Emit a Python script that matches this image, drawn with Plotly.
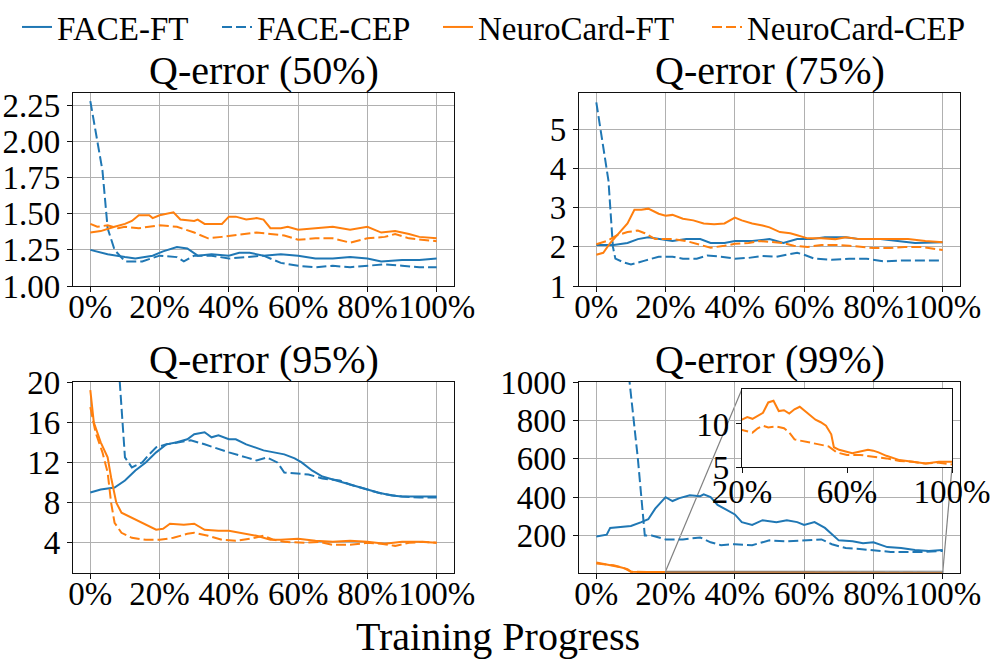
import plotly.graph_objects as go

# ---------------- data ----------------
SERIES = ["FACE-FT", "FACE-CEP", "NeuroCard-FT", "NeuroCard-CEP"]

# Q-error (50%)
q50_face_ft_x = [0, 5, 10, 13, 18, 21, 25, 28, 31, 35, 40, 43, 46, 50, 55, 60, 65, 70, 75, 80, 84, 90, 95, 100]
q50_face_ft_y = [1.25, 1.22, 1.20, 1.19, 1.21, 1.24, 1.27, 1.26, 1.21, 1.22, 1.21, 1.23, 1.23, 1.21, 1.22, 1.21, 1.19, 1.19, 1.20, 1.19, 1.17, 1.18, 1.18, 1.19]
q50_face_cep_x = [0, 3.5, 5, 7, 10, 15, 20, 25, 27, 30, 35, 40, 45, 50, 55, 60, 65, 70, 75, 80, 85, 90, 95, 100]
q50_face_cep_y = [2.28, 1.80, 1.40, 1.25, 1.17, 1.17, 1.21, 1.20, 1.17, 1.21, 1.21, 1.19, 1.20, 1.21, 1.16, 1.14, 1.13, 1.14, 1.13, 1.14, 1.15, 1.14, 1.13, 1.13]
q50_nc_ft_x = [0, 3, 7, 10, 12, 14, 17, 18, 20, 24, 26, 30, 31, 33, 38, 40, 42, 45, 48, 50, 52, 55, 57, 60, 65, 70, 75, 78, 80, 84, 88, 92, 95, 100]
q50_nc_ft_y = [1.37, 1.38, 1.41, 1.43, 1.45, 1.49, 1.49, 1.47, 1.49, 1.51, 1.46, 1.45, 1.46, 1.43, 1.43, 1.48, 1.48, 1.46, 1.47, 1.46, 1.40, 1.40, 1.41, 1.39, 1.40, 1.41, 1.39, 1.40, 1.41, 1.37, 1.38, 1.36, 1.34, 1.33]
q50_nc_cep_x = [0, 2, 5, 8, 10, 14, 20, 25, 30, 34, 38, 42, 46, 48, 52, 56, 60, 65, 70, 75, 80, 85, 88, 92, 100]
q50_nc_cep_y = [1.43, 1.41, 1.42, 1.40, 1.41, 1.40, 1.42, 1.41, 1.37, 1.33, 1.34, 1.35, 1.36, 1.37, 1.36, 1.35, 1.32, 1.33, 1.33, 1.30, 1.33, 1.34, 1.36, 1.33, 1.31]

# Q-error (75%)
q75_face_ft_x = [0, 5, 9, 12, 15, 18, 22, 26, 30, 33, 37, 40, 45, 50, 54, 58, 62, 66, 72, 76, 82, 87, 92, 100]
q75_face_ft_y = [2.05, 2.05, 2.10, 2.20, 2.25, 2.20, 2.15, 2.20, 2.20, 2.10, 2.10, 2.15, 2.15, 2.20, 2.10, 2.20, 2.20, 2.25, 2.25, 2.20, 2.20, 2.15, 2.10, 2.12]
q75_face_cep_x = [0, 3.5, 4.8, 5.5, 8, 10, 14, 18, 22, 25, 29, 32, 36, 40, 44, 48, 52, 58, 60, 63, 68, 73, 78, 83, 88, 95, 100]
q75_face_cep_y = [5.70, 3.70, 2.00, 1.70, 1.60, 1.55, 1.65, 1.75, 1.75, 1.70, 1.70, 1.78, 1.75, 1.70, 1.72, 1.77, 1.75, 1.85, 1.80, 1.70, 1.67, 1.70, 1.70, 1.63, 1.65, 1.65, 1.65]
q75_nc_ft_x = [0, 2, 4, 7, 9, 11, 13, 15, 18, 20, 22, 25, 28, 31, 34, 37, 40, 42, 45, 48, 50, 53, 56, 58, 61, 65, 69, 72, 76, 80, 85, 90, 95, 100]
q75_nc_ft_y = [1.80, 1.85, 2.10, 2.40, 2.60, 2.95, 2.95, 2.98, 2.85, 2.80, 2.82, 2.72, 2.68, 2.60, 2.58, 2.60, 2.75, 2.68, 2.60, 2.55, 2.50, 2.38, 2.35, 2.30, 2.22, 2.22, 2.20, 2.25, 2.20, 2.20, 2.20, 2.20, 2.15, 2.12]
q75_nc_cep_x = [0, 3, 6, 9, 12, 14, 17, 22, 26, 30, 33, 37, 40, 44, 47, 50, 54, 57, 61, 65, 70, 73, 77, 80, 85, 89, 94, 100]
q75_nc_cep_y = [2.07, 2.15, 2.30, 2.38, 2.42, 2.35, 2.20, 2.20, 2.15, 2.05, 1.98, 2.03, 2.08, 2.10, 2.15, 2.13, 2.10, 2.03, 2.00, 2.05, 2.05, 2.03, 2.00, 1.97, 1.97, 2.00, 2.00, 1.92]

# Q-error (95%)
q95_face_ft_x = [0, 3, 7, 10, 13, 16, 19, 22, 25, 28, 30, 33, 35, 37, 40, 42, 45, 48, 50, 53, 56, 59, 61, 64, 67, 70, 73, 77, 80, 83, 87, 90, 95, 100]
q95_face_ft_y = [9.0, 9.3, 9.5, 10.2, 11.2, 12.0, 13.0, 13.8, 14.0, 14.3, 14.8, 15.0, 14.5, 14.7, 14.3, 14.3, 13.8, 13.4, 13.2, 13.0, 12.8, 12.4, 12.0, 11.2, 10.6, 10.3, 10.0, 9.6, 9.3, 9.0, 8.7, 8.6, 8.6, 8.6]
q95_face_cep_x = [0, 4, 7, 8.5, 10, 12, 15, 17, 19, 22, 26, 29, 33, 37, 40, 45, 48, 51, 54, 56, 59, 63, 67, 72, 75, 80, 84, 90, 95, 100]
q95_face_cep_y = [45.0, 32.0, 23.0, 20.0, 12.5, 11.5, 12.0, 12.8, 13.5, 13.8, 14.0, 14.2, 13.8, 13.3, 13.0, 12.5, 12.2, 12.5, 12.0, 11.0, 10.9, 10.8, 10.4, 10.2, 9.8, 9.3, 8.9, 8.6, 8.5, 8.5]
q95_nc_ft_x = [0, 1, 3, 5, 6, 7.5, 9, 12, 15, 19, 21, 23, 27, 30, 33, 37, 40, 45, 48, 52, 55, 60, 65, 70, 75, 80, 85, 90, 95, 100]
q95_nc_ft_y = [19.2, 16.0, 14.0, 12.5, 10.5, 8.0, 7.0, 6.5, 6.0, 5.3, 5.4, 5.9, 5.8, 5.9, 5.3, 5.2, 5.2, 4.9, 4.7, 4.3, 4.3, 4.4, 4.2, 4.1, 4.2, 4.1, 3.9, 4.1, 4.1, 4.0]
q95_nc_cep_x = [0, 1.5, 3.5, 5, 6, 7, 9, 12, 16, 20, 24, 28, 30, 34, 38, 42, 46, 50, 53, 56, 62, 66, 70, 75, 80, 84, 88, 92, 96, 100]
q95_nc_cep_y = [17.5, 15.0, 13.0, 11.0, 8.0, 6.0, 5.0, 4.5, 4.3, 4.3, 4.5, 4.9, 5.0, 4.7, 4.3, 4.2, 4.4, 4.7, 4.3, 4.1, 4.0, 4.1, 3.8, 3.8, 4.0, 3.9, 3.7, 4.0, 4.1, 4.0]

# Q-error (99%)
q99_face_ft_x = [0, 3, 4, 7, 10, 13, 15, 17, 19, 20, 22, 24, 27, 30, 31, 33, 35, 40, 42, 45, 48, 52, 55, 58, 60, 63, 66, 68, 70, 74, 77, 80, 84, 88, 92, 96, 100]
q99_face_ft_y = [195, 205, 240, 245, 250, 270, 285, 340, 380, 400, 380, 395, 410, 405, 415, 400, 360, 310, 270, 255, 280, 270, 280, 270, 255, 270, 240, 210, 175, 170, 160, 165, 140, 135, 125, 120, 125]
q99_face_cep_x = [0, 5, 9, 12, 14, 16, 20, 25, 30, 33, 36, 40, 45, 50, 55, 60, 65, 68, 72, 76, 80, 85, 90, 95, 100]
q99_face_cep_y = [3000, 2000, 1100, 600, 200, 200, 180, 180, 190, 165, 150, 155, 150, 175, 170, 175, 180, 155, 135, 130, 125, 115, 115, 115, 120]
q99_nc_ft_x = [0, 3, 5, 7, 9, 10, 15, 20, 22, 24, 26, 28, 30, 32, 34, 36, 38, 40, 42, 44, 46, 48, 50, 52, 54, 55, 57, 60, 62, 65, 68, 70, 72, 75, 80, 85, 90, 95, 100]
q99_nc_ft_y = [60, 50, 45, 35, 25, 12, 10, 10.5, 10.8, 10.6, 11.0, 11.3, 12.5, 12.7, 11.5, 11.6, 11.2, 11.7, 12.0, 11.5, 11.0, 10.5, 10.2, 9.8, 8.8, 7.3, 7.0, 6.8, 6.6, 6.8, 7.0, 6.9, 6.7, 6.3, 5.8, 5.6, 5.4, 5.6, 5.6]
q99_nc_cep_x = [0, 5, 8, 10, 15, 20, 24, 26, 28, 30, 33, 36, 38, 40, 43, 46, 50, 53, 56, 60, 65, 70, 75, 80, 85, 90, 95, 100]
q99_nc_cep_y = [55, 45, 30, 12, 9.5, 9.3, 9.0, 9.5, 9.8, 9.6, 9.7, 9.5, 9.0, 8.2, 8.0, 7.8, 7.6, 7.4, 6.7, 6.4, 6.4, 6.2, 6.0, 5.7, 5.6, 5.4, 5.5, 5.3]

X_TICKS = [0, 20, 40, 60, 80, 100]
X_TICK_LABELS = ["0%", "20%", "40%", "60%", "80%", "100%"]
Y50_TICKS = [1.0, 1.25, 1.5, 1.75, 2.0, 2.25]
Y50_TICK_LABELS = ["1.00", "1.25", "1.50", "1.75", "2.00", "2.25"]
Y75_TICKS = [1, 2, 3, 4, 5]
Y75_TICK_LABELS = ["1", "2", "3", "4", "5"]
Y95_TICKS = [4, 8, 12, 16, 20]
Y95_TICK_LABELS = ["4", "8", "12", "16", "20"]
Y99_TICKS = [200, 400, 600, 800, 1000]
Y99_TICK_LABELS = ["200", "400", "600", "800", "1000"]
INSET_X_TICKS = [20, 60, 100]
INSET_X_TICK_LABELS = ["20%", "60%", "100%"]
INSET_Y_TICKS = [5, 10]
INSET_Y_TICK_LABELS = ["5", "10"]
TITLES = ["Q-error (50%)", "Q-error (75%)", "Q-error (95%)", "Q-error (99%)"]
X_LABEL = "Training Progress"

# ---------------- style ----------------
FONT = "Liberation Serif, Times New Roman, serif"
BLUE, ORANGE = "#1f77b4", "#ff7f0e"
DASH = "10px,4px"
GRID = "#b0b0b0"
CONNECT = "#808080"
W, H = 996, 660


def serif(labels):
    return ["<span style='font-family:Liberation Serif, Times New Roman, serif'>%s</span>" % t for t in labels]


XR = [-5, 105]
dom_x = [[73 / W, 454 / W], [579 / W, 960 / W]]
dom_y_top = [1 - 286 / H, 1 - 93 / H]
dom_y_bot = [1 - 573 / H, 1 - 382 / H]
inset_dx = [742 / W, 952 / W]
inset_dy = [1 - 467 / H, 1 - 389 / H]
legend_x = [17 / W, 217 / W, 438 / W, 707 / W]

panels = [
    dict(ax="", dx=dom_x[0], dy=dom_y_top, yr=[1.0, 2.336], yt=Y50_TICKS, yl=Y50_TICK_LABELS,
         data=[(q50_face_ft_x, q50_face_ft_y), (q50_face_cep_x, q50_face_cep_y), (q50_nc_ft_x, q50_nc_ft_y), (q50_nc_cep_x, q50_nc_cep_y)]),
    dict(ax="2", dx=dom_x[1], dy=dom_y_top, yr=[1.0, 5.94], yt=Y75_TICKS, yl=Y75_TICK_LABELS,
         data=[(q75_face_ft_x, q75_face_ft_y), (q75_face_cep_x, q75_face_cep_y), (q75_nc_ft_x, q75_nc_ft_y), (q75_nc_cep_x, q75_nc_cep_y)]),
    dict(ax="3", dx=dom_x[0], dy=dom_y_bot, yr=[1.0, 20.0], yt=Y95_TICKS, yl=Y95_TICK_LABELS,
         data=[(q95_face_ft_x, q95_face_ft_y), (q95_face_cep_x, q95_face_cep_y), (q95_nc_ft_x, q95_nc_ft_y), (q95_nc_cep_x, q95_nc_cep_y)]),
    dict(ax="4", dx=dom_x[1], dy=dom_y_bot, yr=[5, 1000], yt=Y99_TICKS, yl=Y99_TICK_LABELS,
         data=[(q99_face_ft_x, q99_face_ft_y), (q99_face_cep_x, q99_face_cep_y), (q99_nc_ft_x, q99_nc_ft_y), (q99_nc_cep_x, q99_nc_cep_y)]),
]

colors = [BLUE, BLUE, ORANGE, ORANGE]
dashes = ["solid", DASH, "solid", DASH]
legend_ids = ["legend", "legend2", "legend3", "legend4"]

fig = go.Figure()
fig.update_layout(template="none")

tickfont = dict(family=FONT, size=33, color="black")
axis_common = dict(showline=True, linecolor="#111111", linewidth=1.2, mirror=True,
                   showgrid=True, gridcolor=GRID, gridwidth=1, zeroline=False,
                   ticks="outside", ticklen=5, tickcolor="#111111", tickwidth=1,
                   automargin=False, tickangle=0, tickfont=tickfont, tickmode="array")

for pi, p in enumerate(panels):
    for si, (xs, ys) in enumerate(p["data"]):
        fig.add_trace(go.Scatter(x=xs, y=ys, mode="lines", name=SERIES[si],
                                 line=dict(color=colors[si], width=2, dash=dashes[si]),
                                 showlegend=(pi == 0), legend=legend_ids[si],
                                 xaxis="x" + p["ax"], yaxis="y" + p["ax"]))
    fig.layout["xaxis" + p["ax"]] = dict(axis_common, domain=p["dx"], range=XR, tickvals=X_TICKS,
                                         ticktext=serif(X_TICK_LABELS), ticklabelstandoff=-14,
                                         anchor="y" + p["ax"])
    fig.layout["yaxis" + p["ax"]] = dict(axis_common, domain=p["dy"], range=p["yr"], tickvals=p["yt"],
                                         ticktext=serif(p["yl"]), anchor="x" + p["ax"])
    fig.add_annotation(text=TITLES[pi], x=(p["dx"][0] + p["dx"][1]) / 2, y=p["dy"][1],
                       xref="paper", yref="paper", xanchor="center", yanchor="bottom",
                       showarrow=False, yshift=-2, font=dict(family=FONT, size=40, color="black"))

# inset (zoom of NeuroCard curves in the 99% panel)
IXR = [20, 100]
IYR = [5, 14.06]
for si in (2, 3):
    xs, ys = panels[3]["data"][si]
    fig.add_trace(go.Scatter(x=xs, y=ys, mode="lines", name=SERIES[si], showlegend=False,
                             line=dict(color=colors[si], width=2, dash=dashes[si]),
                             xaxis="x5", yaxis="y5"))
fig.layout["xaxis5"] = dict(axis_common, domain=inset_dx, range=IXR, tickvals=INSET_X_TICKS, showgrid=False,
                            ticktext=serif(INSET_X_TICK_LABELS), ticklabelstandoff=-10, anchor="y5")
fig.layout["yaxis5"] = dict(axis_common, domain=inset_dy, range=IYR, tickvals=INSET_Y_TICKS, showgrid=False,
                            ticktext=serif(INSET_Y_TICK_LABELS), anchor="x5")

# zoom indicator rectangle + connectors
fig.add_shape(type="rect", xref="x4", yref="y4", x0=IXR[0], x1=IXR[1], y0=IYR[0], y1=IYR[1],
              line=dict(color=CONNECT, width=1.2))


def to_paper(v, dom, rng):
    return dom[0] + (v - rng[0]) / (rng[1] - rng[0]) * (dom[1] - dom[0])


main = panels[3]
connectors = [
    ((IXR[0], IYR[1]), (inset_dx[0], inset_dy[1])),   # upper-left corners
    ((IXR[1], IYR[0]), (inset_dx[1], inset_dy[0])),   # lower-right corners
]
for (xv, yv), (px, py) in connectors:
    fig.add_shape(type="line", xref="paper", yref="paper",
                  x0=to_paper(xv, main["dx"], XR), y0=to_paper(yv, main["dy"], main["yr"]),
                  x1=px, y1=py, line=dict(color=CONNECT, width=1.2), layer="below")

fig.add_annotation(text=X_LABEL, x=0.5, y=1 - 636 / H, xref="paper", yref="paper",
                   xanchor="center", yanchor="middle", showarrow=False,
                   font=dict(family=FONT, size=40, color="black"))

legend_style = dict(orientation="h", xanchor="left", y=1 - 27 / H, yanchor="middle",
                    font=dict(family=FONT, size=33, color="black"), bgcolor="rgba(0,0,0,0)",
                    borderwidth=0, itemwidth=30)
fig.update_layout(
    width=W, height=H, margin=dict(l=0, r=0, t=0, b=0, autoexpand=False),
    paper_bgcolor="white", plot_bgcolor="white",
    font=dict(family=FONT, size=33, color="black"),
    legend=dict(legend_style, x=legend_x[0]),
    legend2=dict(legend_style, x=legend_x[1]),
    legend3=dict(legend_style, x=legend_x[2]),
    legend4=dict(legend_style, x=legend_x[3]),
)

fig.write_html("out.html", config={"displayModeBar": False},
               post_script="document.body.style.margin='0';")
